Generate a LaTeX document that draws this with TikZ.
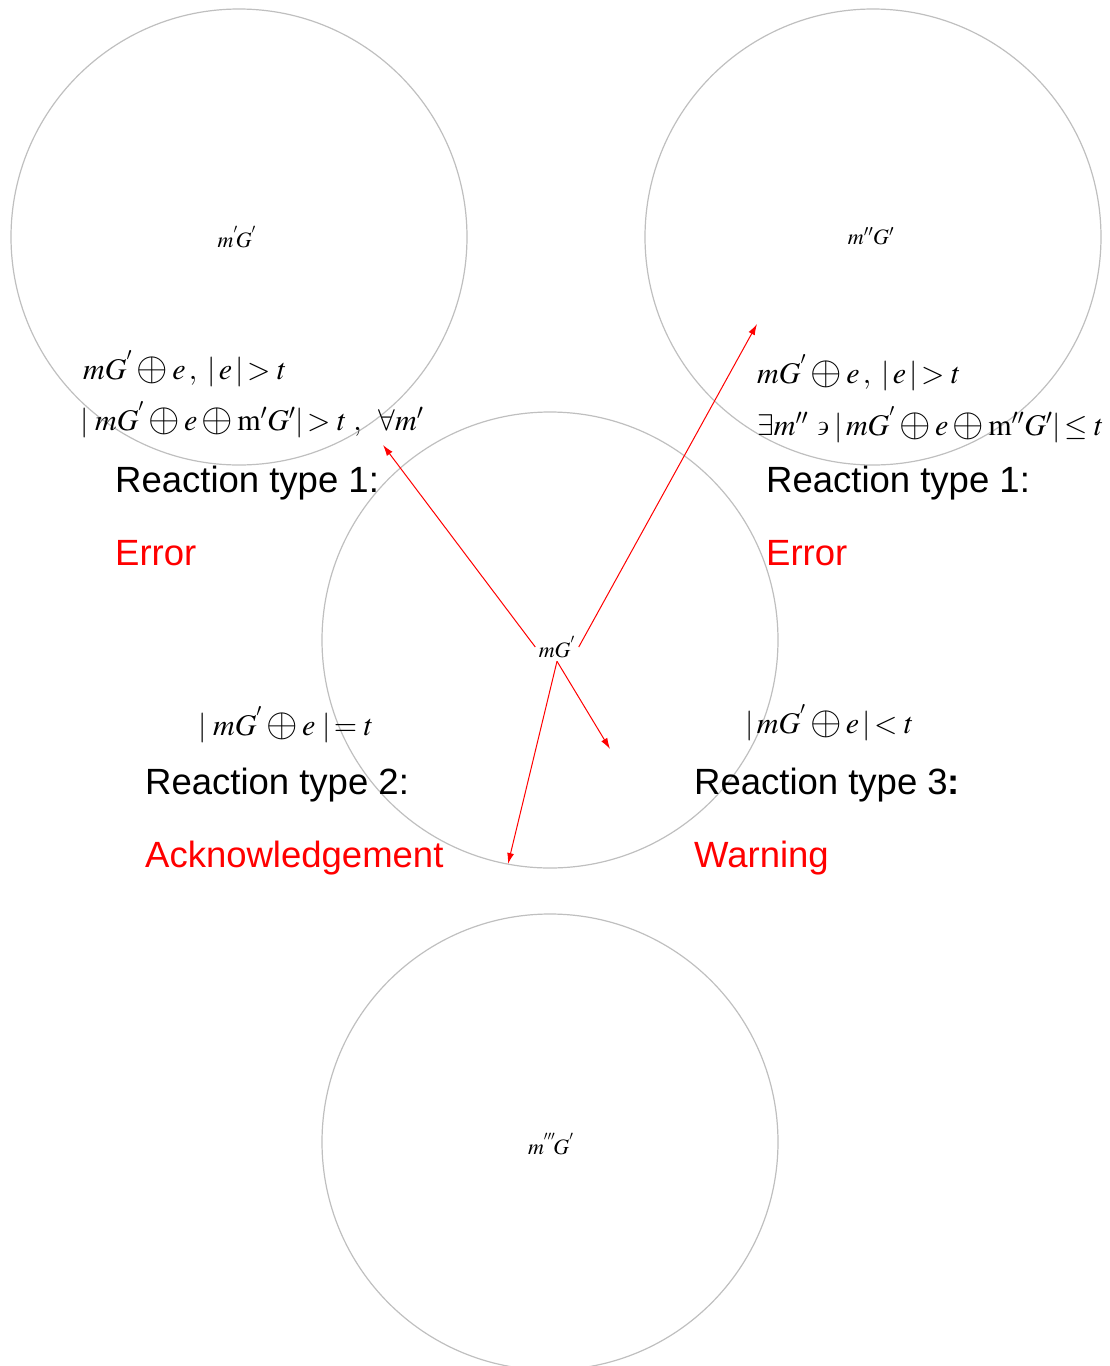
\documentclass[tikz,border=0pt]{standalone}
\usepackage{amssymb}
\usepackage{mathptmx}
\usepackage[no-math]{fontspec}
\setmainfont{Liberation Sans}
\usetikzlibrary{arrows.meta}

% a larger circled plus, as in the conditions
\newcommand{\opl}{\mathbin{\raisebox{-0.12ex}{\scalebox{1.35}{$\oplus$}}}}

\begin{document}
\begin{tikzpicture}[x=1pt,y=-1pt,
  zone/.style={circle,draw=black!25,line width=1.2pt,minimum size=456pt,inner sep=0pt},
  lbl/.style={font=\fontsize{22}{26}\selectfont},
  fml/.style={anchor=base west,inner sep=0pt,font=\fontsize{30}{34}\selectfont},
  head/.style={anchor=base west,inner sep=0pt,font=\fontsize{36.5}{40}\selectfont},
  verdict/.style={head,text=red},
  flow/.style={red,line width=1pt,-{Latex[length=11pt,width=7pt]}}]
\useasboundingbox (0,0) rectangle (1110,1366);

% the four state circles
\node[zone] (zA) at (239,237) {};
\node[zone] (zB) at (873,237) {};
\node[zone] (zC) at (550,640) {};
\node[zone] (zD) at (550,1142) {};

% state labels
\node[lbl] (lA) at (237,237) {$m^{'}\!G^{'}$};
\node[lbl] (lB) at (871,236) {$m''G'$};
\node[lbl] (c)  at (557,647) {$mG^{'}$};
\node[lbl] (lD) at (551,1144) {$m^{'''}\!G^{'}$};

% conditions
\node[fml] (f1) at (83,379) {$mG^{'}\opl e\,,\;|\,e\,|\!>t$};
\node[fml] (f2) at (80,430) {$|\;mG^{'}\opl e\opl\mathrm{m'}G'|\!>t\;,\;\;\forall m'$};
\node[fml] (f3) at (757,383) {$mG^{'}\opl e\,,\;|\,e\,|\!>t$};
\node[fml] (f4) at (757,435) {$\exists m''\backepsilon|\,mG^{'}\opl e\opl\mathrm{m''}G'|\!\leq t$};
\node[fml] (f5) at (198,735) {$|\;mG^{'}\opl e\;|\!=t$};
\node[fml] (f6) at (745,733) {$|\,mG^{'}\opl e\,|\!<t$};

% reactions
\node[head] (h1) at (115,492) {Reaction type 1:};
\node[verdict] (v1) at (115,565) {Error};
\node[head] (h2) at (766,492) {Reaction type 1:};
\node[verdict] (v2) at (766,565) {Error};
\node[head] (h3) at (145,794) {Reaction type 2:};
\node[verdict] (v3) at (145,867) {Acknowledgement};
\node[head] (h4) at (694,794) {Reaction type 3\textbf{:}};
\node[verdict] (v4) at (694,867) {Warning};

% transitions
\coordinate (t1) at (383,445);
\coordinate (t2) at (757,324);
\coordinate (t3) at (610,749);
\coordinate (t4) at (508,864);
\draw[flow] (c.west) -- (t1);
\draw[flow] (c.east) -- (t2);
\draw[flow] (c.south) -- (t3);
\draw[flow] (c.south) -- (t4);
\end{tikzpicture}
\end{document}
